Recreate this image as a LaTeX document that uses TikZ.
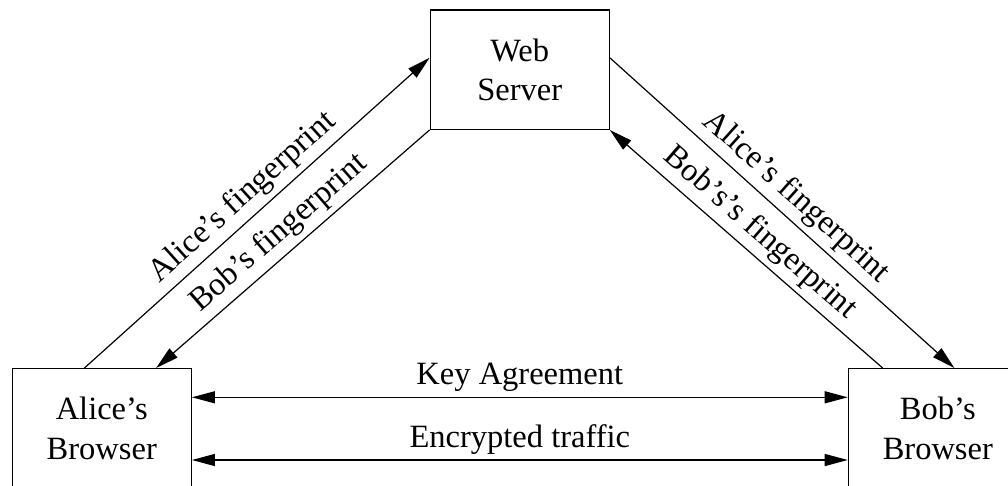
\documentclass[tikz,border=0pt]{standalone}
\usepackage{fontspec}
\setmainfont{Liberation Serif}
\usetikzlibrary{arrows.meta}

\begin{document}
\begin{tikzpicture}[x=1pt,y=-1pt,
  box/.style={draw, line width=1.2pt, minimum width=179pt, minimum height=119.3pt,
    inner sep=0pt, align=center, font=\fontsize{32.5}{39.5}\selectfont},
  conn/.style={line width=1.2pt, -{Triangle[length=23pt,width=12pt]}},
  dconn/.style={line width=1.2pt, {Triangle[length=23pt,width=12pt]}-{Triangle[length=23pt,width=12pt]}},
  lbl/.style={font=\fontsize{32.5}{39.5}\selectfont, inner sep=0pt, anchor=base, yshift=13pt}]
\clip (0,0) rectangle (1008,485);

% parties
\node[box] (web)   at (519.7,69.7)  {Web\\Server};
\node[box] (alice) at (101.8,428.3) {Alice’s\\Browser};
\node[box] (bob)   at (937.8,428.3) {Bob’s\\Browser};

% attachment points on the box borders
\coordinate (aliceOut) at ([xshift=72.7pt]alice.north west);
\coordinate (aliceIn)  at ([xshift=144.4pt]alice.north west);
\coordinate (bobOut)   at ([xshift=35pt]bob.north west);
\coordinate (bobIn)    at ([xshift=106.7pt]bob.north west);
\coordinate (webInL)   at ([yshift=-48.3pt]web.north west);
\coordinate (webOutR)  at ([yshift=-48.3pt]web.north east);

% fingerprint exchange through the server
\draw[conn] (aliceOut) -- node[lbl, sloped] {Alice’s fingerprint} (webInL);
\draw[conn] (web.south west) -- node[lbl, sloped] {Bob’s fingerprint} (aliceIn);
\draw[conn] (webOutR) -- node[lbl, sloped] {Alice’s fingerprint} (bobIn);
\draw[conn] (bobOut) -- node[lbl, sloped] {Bob’s’s fingerprint} (web.south east);

% direct browser-to-browser channel
\draw[dconn] ([yshift=31pt]alice.east) -- node[lbl] {Key Agreement} ([yshift=31pt]bob.west);
\draw[dconn] ([yshift=-31.7pt]alice.east) -- node[lbl] {Encrypted traffic} ([yshift=-31.7pt]bob.west);
\end{tikzpicture}
\end{document}
